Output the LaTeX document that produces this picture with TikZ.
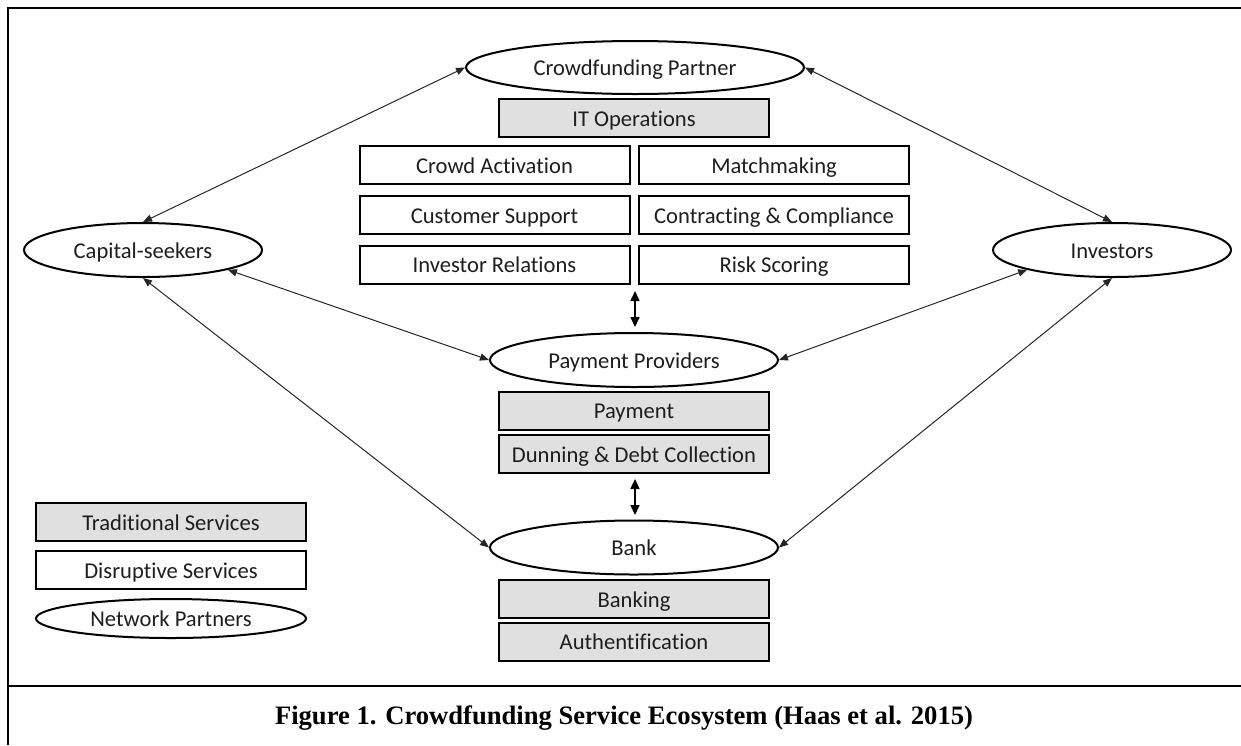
\documentclass[tikz,border=0pt]{standalone}
\usepackage{fontspec}
\setmainfont{Carlito}[Ligatures={NoCommon}]
\newfontfamily\capfont{Liberation Serif}
\usetikzlibrary{shapes.geometric,arrows.meta}
\definecolor{boxgray}{RGB}{224,224,224}
\definecolor{ink}{RGB}{30,30,30}
\begin{document}
\begin{tikzpicture}[x=0.5pt,y=-0.5pt,
 every node/.style={font=\fontsize{11.3}{13}\selectfont, text=ink, inner sep=0pt, text height=8.3pt, text depth=0pt},
 svc/.style={draw=black, line width=1pt, minimum width=135pt, minimum height=19pt},
 trad/.style={svc, fill=boxgray},
 disr/.style={svc, fill=white},
 partner/.style={draw=black, line width=1pt, ellipse, minimum height=27pt},
 link/.style={draw=black!85, line width=0.5pt, {Triangle[length=4.5pt,width=3.6pt]}-{Triangle[length=4.5pt,width=3.6pt]}},
 vlink/.style={line width=0.8pt, {Triangle[length=5pt,width=4.5pt]}-{Triangle[length=5pt,width=4.5pt]}},
 frame/.style={line width=1.3pt}]
\useasboundingbox (0,0) rectangle (1241,745);

% network partners and services
\node[partner, minimum width=169pt, minimum height=26.5pt] (cp) at (635,67.5) {Crowdfunding Partner};
\node[trad] (it) at (634,118) {IT Operations};
\node[disr] (ca) at (494.5,165) {Crowd Activation};
\node[disr] (mm) at (774,165) {Matchmaking};
\node[disr] (su) at (494.5,215) {Customer Support};
\node[disr] (cc) at (774,215) {Contracting \& Compliance};
\node[disr] (ir) at (494.5,264.5) {Investor Relations};
\node[disr] (rs) at (774,264.5) {Risk Scoring};
\node[partner, minimum width=119pt] (cs) at (143,250) {Capital-seekers};
\node[partner, minimum width=119pt] (inv) at (1112,250) {Investors};
\node[partner, minimum width=144pt] (pp) at (634,360) {Payment Providers};
\node[trad] (pay) at (634,410.5) {Payment};
\node[trad] (dun) at (634,454) {Dunning \& Debt Collection};
\node[partner, minimum width=144pt] (bank) at (634,547.5) {Bank};
\node[trad] (bkg) at (634,599) {Banking};
\node[trad] (auth) at (634,641.5) {Authentification};

% legend
\node[trad] (lt) at (171,522) {Traditional Services};
\node[disr] (ld) at (171,570) {Disruptive Services};
\node[partner, minimum width=135pt, minimum height=19.5pt] (lp) at (171,618.5) {Network Partners};

% connectors
\draw[link] (cs.north) -- (cp.west);
\draw[link] (cp.east) -- (inv.north);
\draw[link] (cs.south east) -- (pp.west);
\draw[link] (cs.south) -- (bank.west);
\draw[link] (inv.south west) -- (pp.east);
\draw[link] (inv.south) -- (bank.east);

\coordinate (v1a) at (635,291);
\coordinate (v1b) at (635,327);
\coordinate (v2a) at (635,479);
\coordinate (v2b) at (635,515);
\draw[vlink] (v1a) -- (v1b);
\draw[vlink] (v2a) -- (v2b);

% frame and caption
\coordinate (ftr) at (1241,8);
\coordinate (ftl) at (8,8);
\coordinate (fbl) at (8,745);
\coordinate (cl) at (8,686);
\coordinate (cr) at (1241,686);
\draw[frame] (ftr) -- (ftl) -- (fbl);
\draw[frame] (cl) -- (cr);
\node[font=\capfont\bfseries\fontsize{13.3}{16}\selectfont, text=black, text height=, text depth=] (cap) at (624,718) {Figure 1. Crowdfunding Service Ecosystem (Haas et al. 2015)};
\end{tikzpicture}
\end{document}
